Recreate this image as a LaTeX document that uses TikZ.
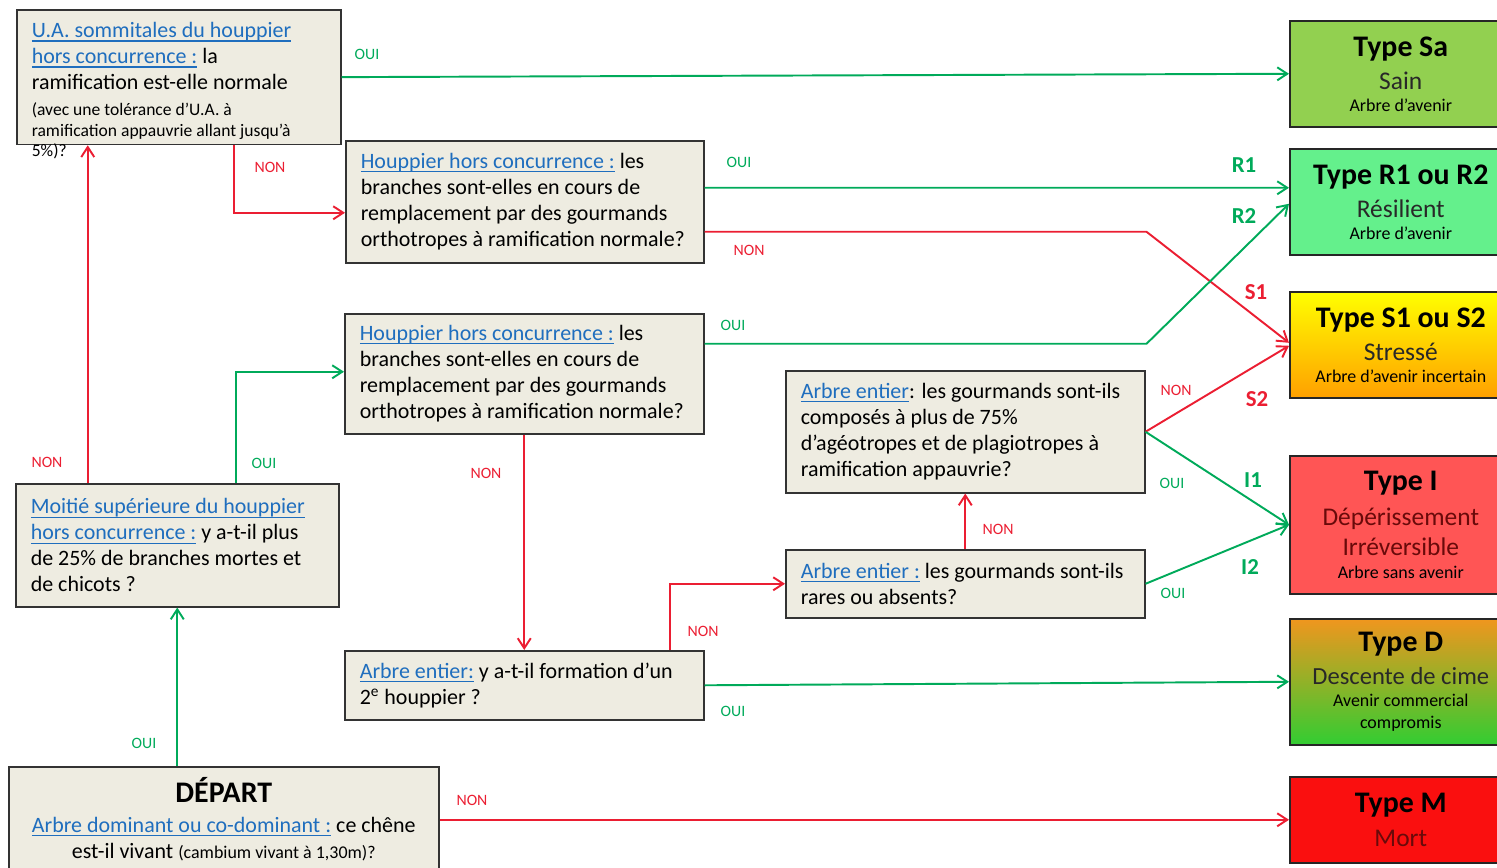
\documentclass[tikz,border=0pt]{standalone}
\usepackage{fontspec}
\setmainfont{Carlito}
\usepackage{tikz}
\usetikzlibrary{arrows.meta, calc}

\definecolor{boxfill}{RGB}{238,236,225}
\definecolor{linkblue}{RGB}{31,110,190}
\definecolor{ouigreen}{RGB}{0,170,90}
\definecolor{nonred}{RGB}{235,30,50}
\definecolor{sainfill}{RGB}{146,208,80}
\definecolor{resfill}{RGB}{100,240,140}
\definecolor{irrfill}{RGB}{255,85,85}
\definecolor{mortfill}{RGB}{250,15,15}
\definecolor{stresstop}{RGB}{255,255,0}
\definecolor{stressbot}{RGB}{255,160,0}
\definecolor{cimetop}{RGB}{240,150,30}
\definecolor{cimebot}{RGB}{50,205,50}
\definecolor{typetxt}{RGB}{40,40,40}
\definecolor{darkred}{RGB}{105,10,10}

\newcommand{\lien}[1]{\textcolor{linkblue}{\setbox0\hbox{#1}\rlap{\rule[-2.2pt]{\wd0}{0.6pt}}\box0}}
\newcommand{\typettl}[1]{{\fontsize{17}{20}\selectfont\bfseries\color{black}#1}}
\newcommand{\typesml}[1]{{\fontsize{10.2}{12}\selectfont\color{black}#1}}

\begin{document}
\begin{tikzpicture}[x=0.02cm, y=-0.02cm,
question/.style={draw=black!80, line width=0.9pt, fill=boxfill, anchor=north west, align=flush left, inner xsep=0.3cm, font=\fontsize{12.5}{14.8}\selectfont},
verdict/.style={draw=black!85, line width=0.9pt, anchor=north west, align=flush center, minimum width=4.44cm, text width=4.2cm, font=\fontsize{14.5}{17}\selectfont, text=typetxt},
ouiarrow/.style={draw=ouigreen, line width=1.1pt, -{Straight Barb[length=2mm,width=2.6mm]}},
nonarrow/.style={draw=nonred, line width=1.1pt, -{Straight Barb[length=2mm,width=2.6mm]}},
ouilabel/.style={text=ouigreen, font=\fontsize{9}{10}\selectfont, inner sep=1pt},
nonlabel/.style={text=nonred, font=\fontsize{9}{10}\selectfont, inner sep=1pt},
branch/.style={font=\fontsize{13}{15}\selectfont\bfseries, inner sep=1pt}
]
\useasboundingbox (0,0) rectangle (1497,868);

% Questions
\node[question, minimum width=6.48cm, text width=5.88cm, text height=0.44cm, text depth=2.02cm] (ua) at (16,9) {\lien{U.A. sommitales du houppier}\\ \lien{hors concurrence :} la\\ ramification est-elle normale\\ {\fontsize{10}{11}\selectfont (avec une tolérance d’U.A. à}\\[-3.2pt] {\fontsize{10}{11}\selectfont ramification appauvrie allant jusqu’à}\\[-3.2pt] {\fontsize{10}{11}\selectfont 5\%)?}};
\node[question, minimum width=7.16cm, minimum height=2.44cm, text width=6.56cm] (hhc1) at (345,140) {\lien{Houppier hors concurrence :} les\\ branches sont-elles en cours de\\ remplacement par des gourmands\\ orthotropes à ramification normale?};
\node[question, minimum width=7.18cm, minimum height=2.40cm, text width=6.58cm] (hhc2) at (344,313) {\lien{Houppier hors concurrence :} les\\ branches sont-elles en cours de\\ remplacement par des gourmands\\ orthotropes à ramification normale?};
\node[question, minimum width=6.46cm, minimum height=2.46cm, text width=5.86cm] (moitie) at (15,483) {\lien{Moitié supérieure du houppier}\\ \lien{hors concurrence :} y a-t-il plus\\ de 25\% de branches mortes et\\ de chicots ?};
\node[question, align=flush center, minimum width=8.6cm, minimum height=2.1cm, text width=8.0cm] (depart) at (8,766) {{\fontsize{17}{20}\selectfont\bfseries DÉPART}\\[2pt] \lien{Arbre dominant ou co-dominant :} ce chêne\\ est-il vivant {\fontsize{10.2}{12}\selectfont(cambium vivant à 1,30m)?}};
\node[question, minimum width=7.18cm, minimum height=1.38cm, text width=6.58cm] (arbre2) at (344,650) {\lien{Arbre entier:} y a-t-il formation d’un\\ 2\textsuperscript{e} houppier ?};
\node[question, minimum width=7.18cm, minimum height=2.44cm, text width=6.58cm] (ageo) at (785,370) {\lien{Arbre entier}: les gourmands sont-ils\\ composés à plus de 75\%\\ d’agéotropes et de plagiotropes à\\ ramification appauvrie?};
\node[question, minimum width=7.18cm, minimum height=1.36cm, text width=6.58cm] (rares) at (785,549) {\lien{Arbre entier :} les gourmands sont-ils\\ rares ou absents?};

% Types
\node[verdict, fill=sainfill, minimum height=2.12cm] (sa) at (1289,20) {\typettl{Type Sa}\\[1.8pt] Sain\\[-4.5pt] \typesml{Arbre d’avenir}};
\node[verdict, fill=resfill, minimum height=2.12cm] (r) at (1289,148) {\typettl{Type R1 ou R2}\\[1.8pt] Résilient\\[-4.5pt] \typesml{Arbre d’avenir}};
\node[verdict, top color=stresstop, bottom color=stressbot, minimum height=2.12cm] (s) at (1289,291) {\typettl{Type S1 ou S2}\\[1.8pt] Stressé\\[-4.5pt] \typesml{Arbre d’avenir incertain}};
\node[verdict, fill=irrfill, text=darkred, minimum height=2.76cm] (i) at (1289,455) {\typettl{Type I}\\[3pt] Dépérissement\\ Irréversible\\[-4pt] \typesml{Arbre sans avenir}};
\node[verdict, top color=cimetop, bottom color=cimebot, minimum height=2.52cm] (d) at (1289,618) {\typettl{Type D}\\[1.8pt] {\fontsize{14}{17}\selectfont Descente de cime}\\[-4.5pt] \typesml{Avenir commercial}\\[-4.5pt] \typesml{compromis}};
\node[verdict, fill=mortfill, text=darkred, minimum height=1.72cm] (m) at (1289,776) {\typettl{Type M}\\[2pt] Mort};

% Connexions
\draw[ouiarrow] (ua.east) -- (sa.west);
\draw[nonarrow] ($(ua.south)+(55,0)$) |- ($(hhc1.west)+(0,11)$);
\draw[ouiarrow] ($(hhc1.east)+(0,-14)$) -- ($(r.west)+(0,-14)$);
\draw[nonarrow] ($(hhc1.east)+(0,30)$) -- ++(442,0) -- ($(s.west)+(0,-2)$);
\draw[ouiarrow] ($(hhc2.east)+(0,-30)$) -- ++(442,0) -- ($(r.west)+(0,2)$);
\draw[nonarrow] (hhc2.south) -- (hhc2.south |- arbre2.north);
\coordinate (mn) at ($(moitie.north)+(-89.5,0)$);
\draw[nonarrow] (mn) -- (mn |- ua.south);
\draw[ouiarrow] ($(moitie.north)+(58.5,0)$) |- ($(hhc2.west)+(0,-2)$);
\draw[ouiarrow] (depart.north -| moitie.south) -- (moitie.south);
\draw[nonarrow] (depart.east |- m.west) -- (m.west);
\draw[ouiarrow] (arbre2.east) -- (d.west);
\draw[nonarrow] ($(arbre2.north)+(145.5,0)$) |- (rares.west);
\draw[nonarrow] (rares.north) -- (ageo.south);
\draw[nonarrow] (ageo.east) -- ($(s.west)+(0,1)$);
\draw[ouiarrow] (ageo.east) -- (i.west);
\draw[ouiarrow] (rares.east) -- (i.west);

% Etiquettes
\node[ouilabel] (oui1) at (367,54) {OUI};
\node[nonlabel] (non1) at (270,167) {NON};
\node[ouilabel] (oui2) at (739,162) {OUI};
\node[nonlabel] (non2) at (749,250) {NON};
\node[ouilabel] (oui3) at (733,325) {OUI};
\node[nonlabel] (non3) at (486,473) {NON};
\node[nonlabel] (non4) at (47,462) {NON};
\node[ouilabel] (oui4) at (264,463) {OUI};
\node[ouilabel] (oui5) at (144,743) {OUI};
\node[nonlabel] (non5) at (472,800) {NON};
\node[ouilabel] (oui6) at (733,711) {OUI};
\node[nonlabel] (non6) at (703,631) {NON};
\node[nonlabel] (non7) at (998,529) {NON};
\node[nonlabel] (non8) at (1176,390) {NON};
\node[ouilabel] (oui7) at (1172,483) {OUI};
\node[ouilabel] (oui8) at (1173,593) {OUI};
\node[branch, text=ouigreen] (r1) at (1244,165) {R1};
\node[branch, text=ouigreen] (r2) at (1244,216) {R2};
\node[branch, text=nonred] (s1) at (1256,292) {S1};
\node[branch, text=nonred] (s2) at (1257,399) {S2};
\node[branch, text=ouigreen] (i1) at (1253,480) {I1};
\node[branch, text=ouigreen] (i2) at (1250,567) {I2};

\end{tikzpicture}
\end{document}
